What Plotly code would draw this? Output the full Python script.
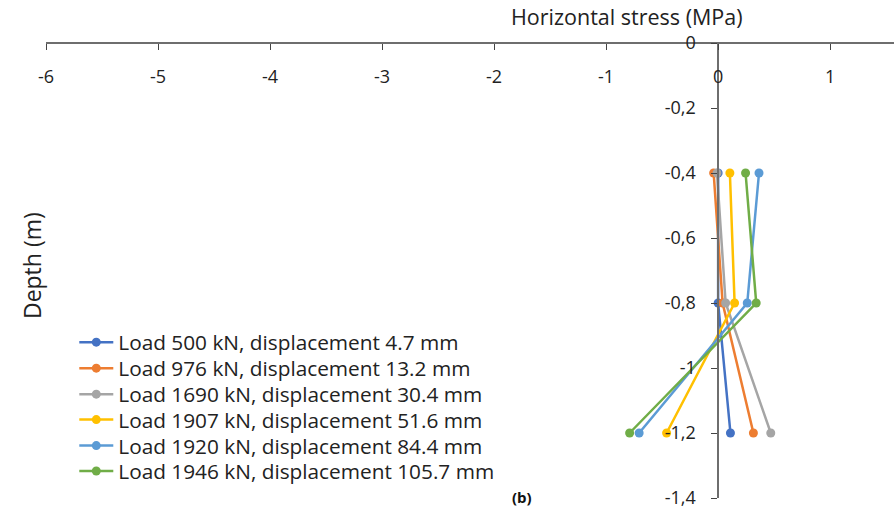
import plotly.graph_objects as go

depth = [-0.4, -0.8, -1.2]
names = [
    "Load 500 kN, displacement 4.7 mm",
    "Load 976 kN, displacement 13.2 mm",
    "Load 1690 kN, displacement 30.4 mm",
    "Load 1907 kN, displacement 51.6 mm",
    "Load 1920 kN, displacement 84.4 mm",
    "Load 1946 kN, displacement 105.7 mm",
]
stress_500 = [0.0, 0.0, 0.11]
stress_976 = [-0.04, 0.04, 0.315]
stress_1690 = [-0.01, 0.067, 0.47]
stress_1907 = [0.105, 0.147, -0.46]
stress_1920 = [0.365, 0.26, -0.705]
stress_1946 = [0.245, 0.34, -0.79]
series = [stress_500, stress_976, stress_1690, stress_1907, stress_1920, stress_1946]
colors = ["#4472C4", "#ED7D31", "#A5A5A5", "#FFC000", "#5B9BD5", "#70AD47"]

x_ticks = [-6, -5, -4, -3, -2, -1, 0, 1]
x_ticktext = ["-6", "-5", "-4", "-3", "-2", "-1", "0", "1"]
y_ticks = [0, -0.2, -0.4, -0.6, -0.8, -1.0, -1.2, -1.4]
y_ticktext = ["0", "-0,2", "-0,4", "-0,6", "-0,8", "-1", "-1,2", "-1,4"]

x_range = [-6, 1.57]
y_range = [-1.4, 0]

W, H = 894, 511
ML, MR, MT, MB = 45.7, 0, 43, 12.5
PW, PH = W - ML - MR, H - MT - MB


def px(x):
    return (x - ML) / PW


def py(y):
    return (H - MB - y) / PH


FONT = "Open Sans"
AXC = "#6e6e6e"
TXT = "#222"

fig = go.Figure()
legend_rows = [343, 369, 395, 420.5, 446.5, 472]
for i, (nm, s, c) in enumerate(zip(names, series, colors)):
    fig.add_trace(go.Scatter(
        x=s, y=depth, mode="lines+markers", name=nm,
        line=dict(color=c, width=2.5), marker=dict(color=c, size=9),
        legend="legend" if i == 0 else f"legend{i + 1}",
    ))

yaxis_pos = (0 - x_range[0]) / (x_range[1] - x_range[0])

common_x = dict(range=x_range, tickvals=x_ticks, ticktext=x_ticktext, showgrid=False,
                zeroline=False, showline=True, linecolor=AXC, linewidth=1.5, ticklen=6,
                tickcolor="#444", tickwidth=1.2, anchor="free", position=1, side="bottom")
common_y = dict(range=y_range, tickvals=y_ticks, ticktext=y_ticktext, showgrid=False,
                zeroline=False, showline=True, linecolor=AXC, linewidth=1.5, ticklen=6,
                tickcolor="#444", tickwidth=1.2, anchor="free", position=yaxis_pos,
                side="left")

layout = dict(
    width=W, height=H,
    margin=dict(l=ML, r=MR, t=MT, b=MB),
    plot_bgcolor="white", paper_bgcolor="white",
    font=dict(family=FONT, size=18, color=TXT),
    xaxis=dict(**common_x, ticks="outside", ticklabelstandoff=12,
               tickfont=dict(size=18, color=TXT)),
    xaxis2=dict(**common_x, ticks="inside", showticklabels=False,
                overlaying="x", matches="x"),
    yaxis=dict(**common_y, ticks="outside", ticklabelstandoff=12,
               tickfont=dict(size=18, color=TXT)),
    yaxis2=dict(**common_y, ticks="inside", showticklabels=False,
                overlaying="y", matches="y"),
    showlegend=True,
)
for i, row in enumerate(legend_rows):
    key = "legend" if i == 0 else f"legend{i + 1}"
    layout[key] = dict(x=px(74), y=py(row), xanchor="left", yanchor="middle",
                       font=dict(family=FONT, size=20.8, color=TXT),
                       bgcolor="rgba(0,0,0,0)", itemwidth=34)
fig.update_layout(**layout)

fig.add_annotation(text="Horizontal stress (MPa)", xref="paper", yref="paper",
                   x=px(627), y=py(16), xanchor="center", yanchor="middle",
                   showarrow=False, font=dict(family=FONT, size=21.5, color=TXT))
fig.add_annotation(text="Depth (m)", xref="paper", yref="paper", textangle=-90,
                   x=px(31), y=py(266), xanchor="center", yanchor="middle",
                   showarrow=False, font=dict(family=FONT, size=23, color=TXT))
fig.add_annotation(text="<b>(b)</b>", xref="paper", yref="paper",
                   x=px(522), y=py(510), xanchor="center", yanchor="bottom",
                   showarrow=False, font=dict(family=FONT, size=15, color="#111"))

fig.write_html("out.html")
